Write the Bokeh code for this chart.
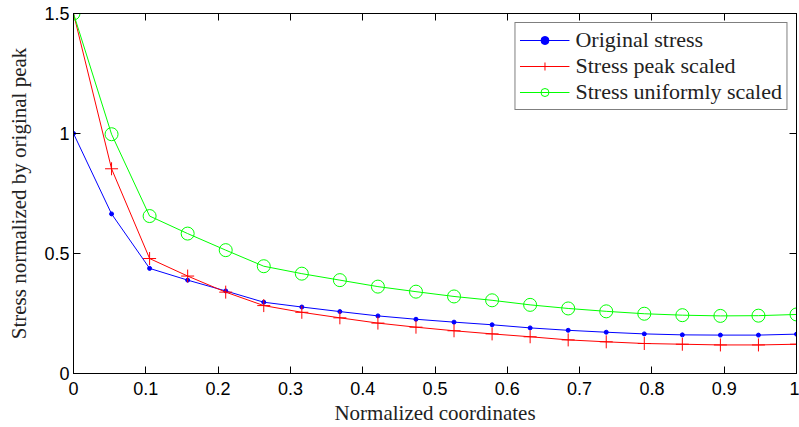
from bokeh.plotting import figure
from bokeh.models import LinearAxis, Range1d, Legend, LegendItem, FixedTicker
from bokeh.embed import file_html
from bokeh.resources import INLINE

x = [i / 19 for i in range(20)]
original = [1.0, 0.665, 0.438, 0.389, 0.344, 0.297, 0.277, 0.258, 0.240, 0.226,
            0.214, 0.203, 0.190, 0.180, 0.172, 0.165, 0.161, 0.160, 0.160, 0.164]
peak_scaled = [1.5, 0.853, 0.479, 0.406, 0.339, 0.283, 0.255, 0.232, 0.210, 0.193,
               0.178, 0.165, 0.153, 0.140, 0.132, 0.125, 0.122, 0.119, 0.119, 0.122]
uniform_scaled = [1.5, 0.997, 0.656, 0.583, 0.514, 0.447, 0.416, 0.389, 0.362, 0.341,
                  0.321, 0.305, 0.286, 0.271, 0.259, 0.249, 0.243, 0.240, 0.241, 0.246]
x_ticks = [0, 0.1, 0.2, 0.3, 0.4, 0.5, 0.6, 0.7, 0.8, 0.9, 1]
y_ticks = [0, 0.5, 1, 1.5]
x_tick_labels = {0: "0", 0.1: "0.1", 0.2: "0.2", 0.3: "0.3", 0.4: "0.4", 0.5: "0.5",
                 0.6: "0.6", 0.7: "0.7", 0.8: "0.8", 0.9: "0.9", 1: "1"}
y_tick_labels = {0: "0", 0.5: "0.5", 1: "1", 1.5: "1.5"}

SERIF = "Liberation Serif"
SANS = "Liberation Sans"

p = figure(width=799, height=427, output_backend="svg", toolbar_location=None,
           x_range=Range1d(0, 1), y_range=Range1d(0, 1.5),
           min_border_left=73, min_border_right=3, min_border_top=13, min_border_bottom=54,
           x_axis_label="Normalized coordinates",
           y_axis_label="Stress normalized by original peak")
p.grid.visible = False
p.outline_line_color = "black"
p.outline_line_width = 1
p.background_fill_color = "white"
p.border_fill_color = "white"

for ax, ticks, labels in ((p.xaxis[0], x_ticks, x_tick_labels), (p.yaxis[0], y_ticks, y_tick_labels)):
    ax.ticker = FixedTicker(ticks=ticks)
    ax.major_label_overrides = labels
    ax.major_tick_in = 7
    ax.major_tick_out = 0
    ax.minor_tick_line_color = None
    ax.axis_line_color = "black"
    ax.major_label_text_font = SANS
    ax.major_label_text_font_size = "18px"
    ax.major_label_text_color = "black"
    ax.axis_label_text_font = SERIF
    ax.axis_label_text_font_size = "21px"
    ax.axis_label_text_font_style = "normal"
    ax.axis_label_text_color = "#222222"

p.xaxis[0].major_label_standoff = 8
p.xaxis[0].axis_label_standoff = 3
p.yaxis[0].major_label_standoff = 4
p.yaxis[0].axis_label_standoff = 10

for side, ticks in (("above", x_ticks), ("right", y_ticks)):
    ax = LinearAxis(ticker=FixedTicker(ticks=ticks), major_tick_in=7, major_tick_out=0,
                    minor_tick_line_color=None, major_label_text_font_size="1px",
                    major_label_text_color=None,
                    major_label_standoff=0, axis_line_color="black")
    p.add_layout(ax, side)

r1l = p.line(x, original, line_color="#0000ff", line_width=1)
r1m = p.scatter(x, original, marker="circle", size=4, fill_color="#0000ff", line_color="#0000ff")
r2l = p.line(x, peak_scaled, line_color="#ff0000", line_width=1)
r2m = p.scatter(x, peak_scaled, marker="cross", size=13, line_color="#ff0000", line_width=1)
r3l = p.line(x, uniform_scaled, line_color="#00ff00", line_width=1)
r3m = p.scatter(x, uniform_scaled, marker="circle", size=13, fill_color=None,
                line_color="#00ff00", line_width=1)

legend = Legend(items=[
    LegendItem(label="Original stress", renderers=[r1l, r1m]),
    LegendItem(label="Stress peak scaled", renderers=[r2l, r2m]),
    LegendItem(label="Stress uniformly scaled", renderers=[r3l, r3m]),
], location="top_right")
legend.margin = 9
legend.padding = 4
legend.spacing = -5
legend.label_height = 20
legend.glyph_height = 20
legend.glyph_width = 50
legend.label_standoff = 6
legend.label_text_font = SERIF
legend.label_text_font_size = "22px"
legend.label_text_color = "#222222"
legend.border_line_color = "black"
legend.border_line_width = 1
legend.background_fill_color = "white"
legend.background_fill_alpha = 1
p.add_layout(legend, "center")

open("out.html", "w").write(file_html(p, INLINE))
